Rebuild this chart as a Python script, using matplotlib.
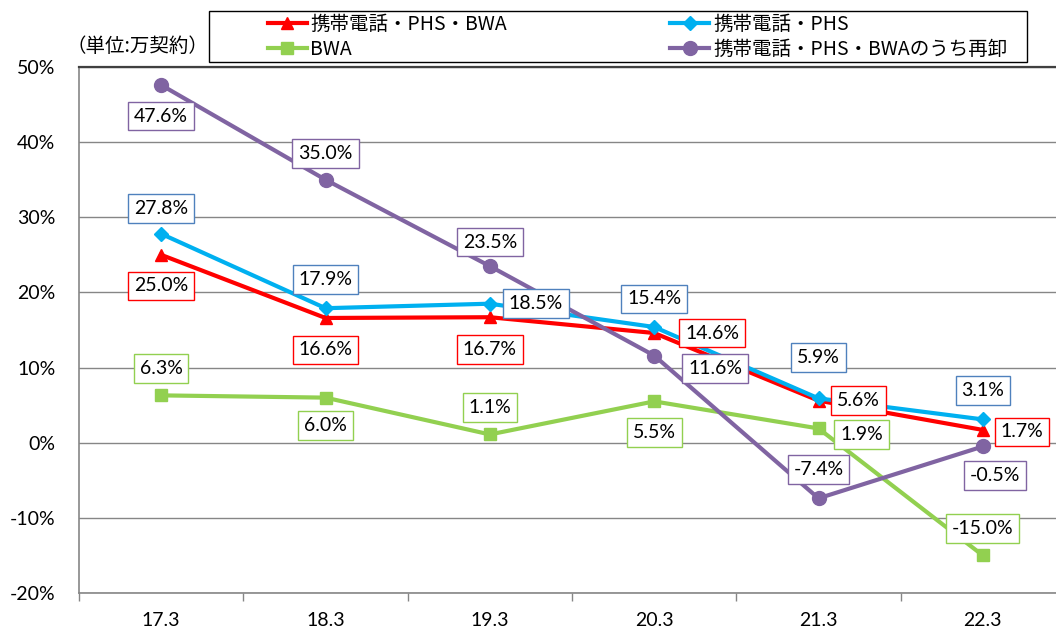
"""Year-on-year growth of mobile contracts (携帯電話・PHS・BWA)"""
import matplotlib
matplotlib.use("Agg")
from matplotlib import pyplot as plt
from matplotlib.patches import Rectangle
from matplotlib.ticker import FixedLocator, PercentFormatter

plt.rcParams['font.family'] = ['Lato', 'Noto Sans CJK JP', 'DejaVu Sans']
plt.rcParams['axes.unicode_minus'] = False

categories = ['17.3', '18.3', '19.3', '20.3', '21.3', '22.3']
total = [25.0, 16.6, 16.7, 14.6, 5.6, 1.7]        # 携帯電話・PHS・BWA
mobile_phs = [27.8, 17.9, 18.5, 15.4, 5.9, 3.1]   # 携帯電話・PHS
bwa = [6.3, 6.0, 1.1, 5.5, 1.9, -15.0]            # BWA
wholesale = [47.6, 35.0, 23.5, 11.6, -7.4, -0.5]  # うち再卸

# label offsets in pixels (dx, dy up)
off_total = [(0, -31), (0, -32), (0, -32), (58, 0), (40, 0), (39, -2)]
off_mobile = [(0, 25), (0, 29), (46, 0), (0, 28), (0, 41), (0, 29)]
off_bwa = [(0, 27), (0, -28), (0, 27), (0, -31), (43, -6), (0, 27)]
off_whole = [(0, -31), (0, 26), (0, 24), (61, -13), (0, 29), (12, -29)]

W, H = 1056, 631
fig = plt.figure(figsize=(W / 100, H / 100), dpi=100)
ax = fig.add_axes([79 / W, 38 / H, (W - 79) / W, (593 - 67) / H])

x = list(range(len(categories)))
series = [
    (total, '携帯電話・PHS・BWA', '#FF0000', '^', 9, '#FF0000', off_total),
    (mobile_phs, '携帯電話・PHS', '#00B0F0', 'D', 7, '#4F81BD', off_mobile),
    (bwa, 'BWA', '#92D050', 's', 8, '#92D050', off_bwa),
    (wholesale, '携帯電話・PHS・BWAのうち再卸', '#8064A2', 'o', 10, '#8064A2', off_whole),
]
handles = []
for vals, name, color, mk, ms, edge, offs in series:
    h, = ax.plot(x, vals, color=color, lw=3, marker=mk, markersize=ms,
                 label=name, zorder=3, clip_on=False)
    handles.append(h)
    for xi, v, (dx, dy) in zip(x, vals, offs):
        ax.annotate(f'{v:.1f}%', (xi, v), xytext=(dx * 0.72, dy * 0.72),
                    textcoords='offset points', ha='center', va='center',
                    fontsize=14, zorder=5,
                    bbox=dict(boxstyle='square,pad=0.3', fc='white',
                              ec=edge, lw=1))

ax.set_xlim(-0.5, 5.5 - 9 / 164.3)
ax.set_ylim(-20, 50)
ax.yaxis.set_major_locator(FixedLocator(range(-20, 51, 10)))
ax.yaxis.set_major_formatter(PercentFormatter(decimals=0))
ax.grid(axis='y', color='#868686', lw=1)
ax.set_axisbelow(True)
ax.tick_params(axis='y', length=0, pad=17, labelsize=14)

ax.set_xticks(x)
ax.set_xticklabels(categories)
ax.xaxis.set_minor_locator(FixedLocator([i - 0.5 for i in range(7)]))
ax.tick_params(axis='x', which='major', length=0, pad=14, labelsize=14)
ax.tick_params(axis='x', which='minor', length=6, color='#868686', width=1)

for s in ['left', 'bottom']:
    ax.spines[s].set_color('#868686')
    ax.spines[s].set_linewidth(1.2)
ax.spines['right'].set_visible(False)
ax.spines['top'].set_color('#404040')
ax.spines['top'].set_linewidth(1.6)

fig.text(66 / W, 1 - 46 / H, '（単位:万契約）', fontsize=14, va='center',
         family=['Noto Sans CJK JP'])

fig.patches.append(Rectangle((209 / W, 1 - 62 / H), (1027 - 209) / W, 51 / H,
                             transform=fig.transFigure, fill=False,
                             ec='black', lw=1))
order = [handles[0], handles[2], handles[1], handles[3]]
fig.legend(order, [h.get_label() for h in order], ncol=2, frameon=False,
           loc='center left', bbox_to_anchor=(254 / W, 1 - 37 / H),
           prop={'family': ['Noto Sans CJK JP'], 'size': 14},
           handlelength=2.0, handletextpad=0.2, columnspacing=8.4,
           labelspacing=0.2, borderpad=0.2)

fig.savefig('out.png', dpi=100)
